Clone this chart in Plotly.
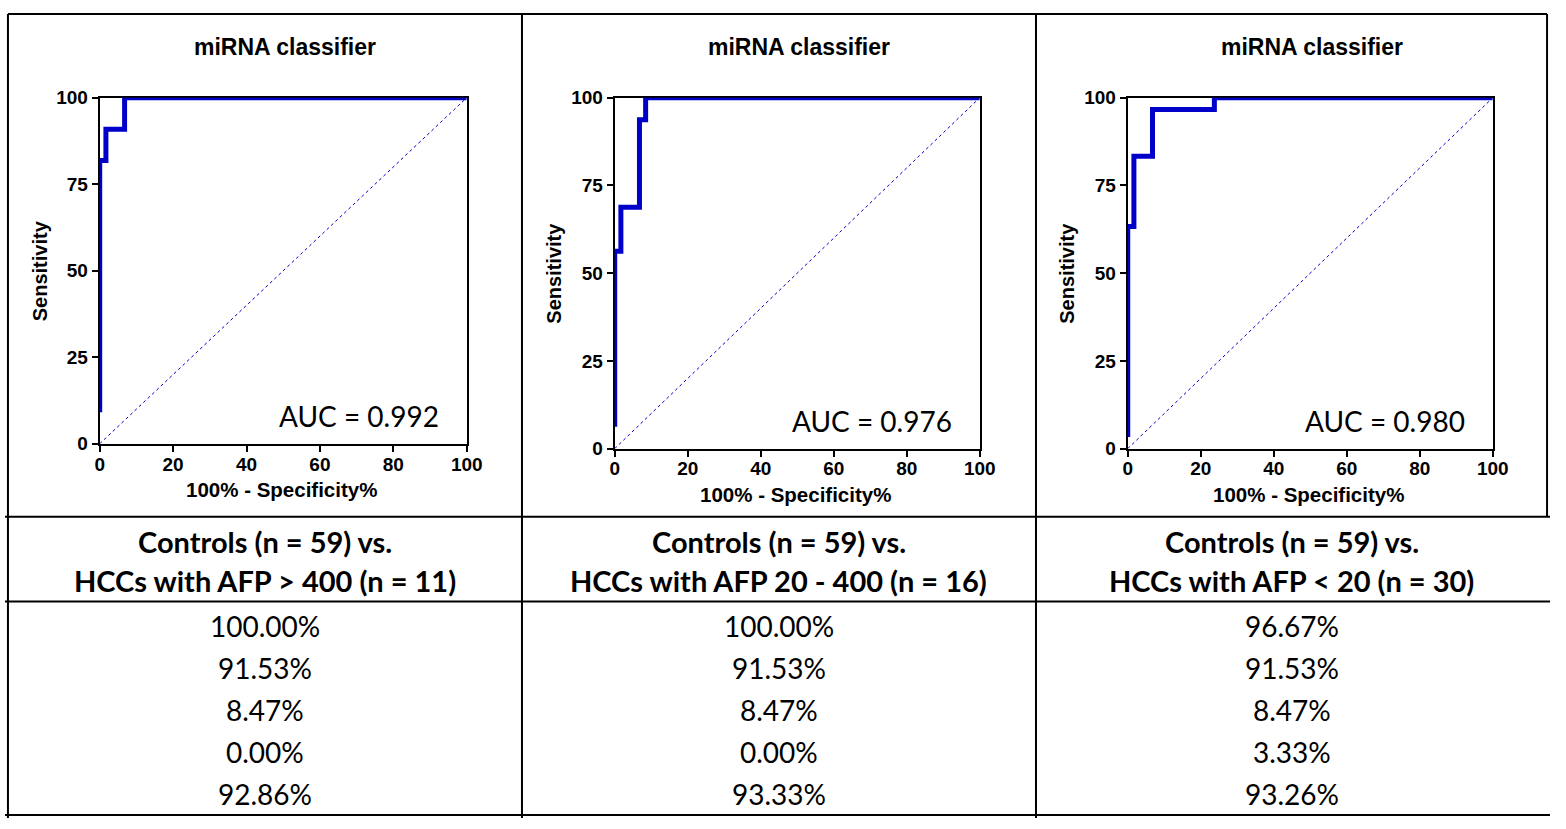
import plotly.graph_objects as go

W, H = 1566, 829

# ---------------- data ----------------
panel_titles = ["miRNA classifier", "miRNA classifier", "miRNA classifier"]
auc_labels = ["AUC = 0.992", "AUC = 0.976", "AUC = 0.980"]

roc1_fpr = [0, 0, 1.69, 1.69, 6.78, 6.78, 100]
roc1_tpr = [9.09, 81.82, 81.82, 90.91, 90.91, 100, 100]
roc2_fpr = [0, 0, 1.69, 1.69, 6.78, 6.78, 8.47, 8.47, 100]
roc2_tpr = [6.25, 56.25, 56.25, 68.75, 68.75, 93.75, 93.75, 100, 100]
roc3_fpr = [0, 0, 1.69, 1.69, 6.78, 6.78, 23.73, 23.73, 100]
roc3_tpr = [3.33, 63.33, 63.33, 83.33, 83.33, 96.67, 96.67, 100, 100]
ref_line = [0, 100]

x_ticks = [0, 20, 40, 60, 80, 100]
y_ticks = [0, 25, 50, 75, 100]

header_line1 = ["Controls (n = 59) vs.", "Controls (n = 59) vs.", "Controls (n = 59) vs."]
header_line2 = ["HCCs with AFP > 400 (n = 11)", "HCCs with AFP 20 - 400 (n = 16)",
                "HCCs with AFP < 20 (n = 30)"]
col1_values = ["100.00%", "91.53%", "8.47%", "0.00%", "92.86%"]
col2_values = ["100.00%", "91.53%", "8.47%", "0.00%", "93.33%"]
col3_values = ["96.67%", "91.53%", "8.47%", "3.33%", "93.26%"]

# ---------------- layout helpers ----------------
def px(x):
    return x / W

def py(y):
    return 1 - y / H

BLUE = "#0000C8"
panels = [
    # plot-area pixel box: left, right, top, bottom
    dict(box=(96, 468, 90, 445), fpr=roc1_fpr, tpr=roc1_tpr),
    dict(box=(618, 988, 90, 450), fpr=roc2_fpr, tpr=roc2_tpr),
    dict(box=(1138, 1508, 90, 450), fpr=roc3_fpr, tpr=roc3_tpr),
]

fig = go.Figure()
annotations = []
shapes = []
tick_font = dict(family="Arial", size=19, color="black", weight="bold")
lab_font = dict(family="Arial", size=20.5, color="black", weight="bold")

for i, p in enumerate(panels):
    n = "" if i == 0 else str(i + 1)
    xa, ya = "x" + n, "y" + n
    l, r, t, b = p["box"]
    fig.add_trace(go.Scatter(x=ref_line, y=ref_line, mode="lines",
                             line=dict(color=BLUE, width=1, dash="dot"),
                             xaxis=xa, yaxis=ya, showlegend=False, hoverinfo="skip"))
    fig.add_trace(go.Scatter(x=p["fpr"], y=p["tpr"], mode="lines",
                             line=dict(color=BLUE, width=5),
                             xaxis=xa, yaxis=ya, showlegend=False))
    common = dict(showline=True, linecolor="black", linewidth=2, mirror=True,
                  ticks="outside", ticklen=6, tickwidth=2, tickcolor="black",
                  showgrid=False, zeroline=False, range=[0, 100], fixedrange=True,
                  tickfont=tick_font, layer="below traces")
    fig.layout["xaxis" + n] = dict(common, domain=[px(l), px(r)], anchor=ya,
                                   tickvals=x_ticks, ticklabelstandoff=-4)
    fig.layout["yaxis" + n] = dict(common, domain=[py(b), py(t)], anchor=xa,
                                   tickvals=y_ticks)
    cx = (l + r) / 2
    annotations.append(dict(text=panel_titles[i], x=px(cx + 2), y=py(38), xref="paper", yref="paper",
                            showarrow=False, xanchor="center", yanchor="middle",
                            font=dict(family="Arial", size=23, color="black", weight="bold")))
    annotations.append(dict(text="100% - Specificity%", x=px(cx - 2), y=py(b + 47),
                            xref="paper", yref="paper", showarrow=False,
                            xanchor="center", yanchor="middle", font=lab_font))
    annotations.append(dict(text="Sensitivity", x=px(l - 61), y=py((t + b) / 2), textangle=-90,
                            xref="paper", yref="paper", showarrow=False,
                            xanchor="center", yanchor="middle",
                            font=dict(family="Arial", size=20, color="black", weight="bold")))
    annotations.append(dict(text=auc_labels[i], x=93, y=8, xref=xa, yref=ya,
                            showarrow=False, xanchor="right", yanchor="middle",
                            font=dict(family="Lato", size=28, color="black")))

# ---------------- table ----------------
col_edges = [3, 524, 1045, 1563]
row_centers = [632, 675, 718, 761, 804]
values = [col1_values, col2_values, col3_values]
for c in range(3):
    cx = (col_edges[c] + col_edges[c + 1]) / 2
    annotations.append(dict(text=header_line1[c], x=px(cx), y=py(545), xref="paper", yref="paper",
                            showarrow=False, xanchor="center", yanchor="middle",
                            font=dict(family="Lato", size=29, color="black", weight="bold")))
    annotations.append(dict(text=header_line2[c], x=px(cx), y=py(585), xref="paper", yref="paper",
                            showarrow=False, xanchor="center", yanchor="middle",
                            font=dict(family="Lato", size=29, color="black", weight="bold")))
    for rr, v in enumerate(values[c]):
        annotations.append(dict(text=v, x=px(cx), y=py(row_centers[rr]), xref="paper", yref="paper",
                                showarrow=False, xanchor="center", yanchor="middle",
                                font=dict(family="Lato", size=28, color="black")))

def hline(y, x0=0, x1=W):
    shapes.append(dict(type="line", xref="paper", yref="paper", x0=px(x0), x1=px(x1),
                       y0=py(y), y1=py(y), line=dict(color="black", width=2)))

def vline(x, y0, y1):
    shapes.append(dict(type="line", xref="paper", yref="paper", x0=px(x), x1=px(x),
                       y0=py(y0), y1=py(y1), line=dict(color="black", width=2)))

hline(4, 3, 1563)
hline(520)
hline(607)
hline(826)
vline(3, 4, 829)
vline(524, 4, 829)
vline(1045, 4, 829)
vline(1563, 4, 520)

fig.update_layout(width=W, height=H, margin=dict(l=0, r=0, t=0, b=0),
                  paper_bgcolor="white", plot_bgcolor="white",
                  annotations=annotations, shapes=shapes, showlegend=False)

post = ("var s=document.createElement('style');"
        "s.textContent='html,body{margin:0!important;padding:0!important;overflow:hidden!important;}"
        ".plotly-graph-div{position:fixed!important;left:0!important;top:0!important;}';"
        "document.head.appendChild(s);"
        "window.scrollTo(0,0);")
fig.write_html("out.html", config={"displayModeBar": False}, post_script=post)
